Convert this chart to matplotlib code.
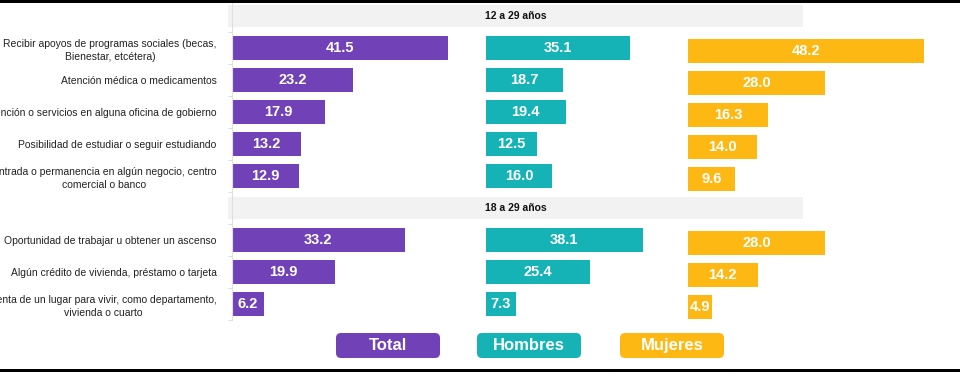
import matplotlib

matplotlib.use("Agg")
import matplotlib.pyplot as plt
import numpy as np
from matplotlib.patches import FancyBboxPatch, Rectangle

# data
groups = ["12 a 29 años", "18 a 29 años"]
group_sizes = [5, 3]
categories = [
    "Recibir apoyos de programas sociales (becas,\nBienestar, etcétera)",
    "Atención médica o medicamentos",
    "Atención o servicios en alguna oficina de gobierno",
    "Posibilidad de estudiar o seguir estudiando",
    "Entrada o permanencia en algún negocio, centro\ncomercial o banco",
    "Oportunidad de trabajar u obtener un ascenso",
    "Algún crédito de vivienda, préstamo o tarjeta",
    "Renta de un lugar para vivir, como departamento,\nvivienda o cuarto",
]
total = [41.5, 23.2, 17.9, 13.2, 12.9, 33.2, 19.9, 6.2]
hombres = [35.1, 18.7, 19.4, 12.5, 16.0, 38.1, 25.4, 7.3]
mujeres = [48.2, 28.0, 16.3, 14.0, 9.6, 28.0, 14.2, 4.9]
series_names = ["Total", "Hombres", "Mujeres"]

colors = ["#7041B7", "#15B3B5", "#FDB813"]
FONT = ["Liberation Sans Narrow", "Liberation Sans", "DejaVu Sans"]

W, H = 960, 372
fig = plt.figure(figsize=(W / 100, H / 100), dpi=100)

# slot positions: one slot per group header, then its rows
band_pos, row_pos = [], []
k = 0
for n in group_sizes:
    band_pos.append(k)
    row_pos.extend(range(k + 1, k + 1 + n))
    k += n + 1
n_slots = k
row_pos = np.array(row_pos)


def px_axes(left, width, dy=0):
    # axes placed in pixel units; y covers all slots
    bottom = H - 320 - dy
    return fig.add_axes([left / W, bottom / H, width / W, 320 / H])


# header bands spanning the three panels
axb = px_axes(228, 575)
axb.barh(band_pos, [1] * len(band_pos), height=0.7, left=0, color="#F2F2F2")
for p, g in zip(band_pos, groups):
    axb.text(0.5, p, g, ha="center", va="center", fontsize=7.5,
             fontweight="bold", family=FONT, color="#111111")
axb.set_xlim(0, 1)
axb.set_ylim(n_slots - 0.5, -0.5)
axb.axis("off")

xmax = 50
panels = [(232, 5.2, 0), (486, 4.11, 0), (688, 4.9, 3)]
values = [total, hombres, mujeres]
axes = []
for (left, scale, dy), vals, col in zip(panels, values, colors):
    ax = px_axes(left, xmax * scale, dy)
    ax.patch.set_visible(False)
    ax.barh(row_pos, vals, height=0.78, color=col)
    for y, v in zip(row_pos, vals):
        ax.text(v / 2, y, f"{v:.1f}", ha="center", va="center", color="white",
                fontsize=10.5, fontweight="bold", family=FONT)
    ax.set_xlim(0, xmax)
    ax.set_ylim(n_slots - 0.5, -0.5)
    ax.set_xticks([])
    for s in ["top", "right", "bottom", "left"]:
        ax.spines[s].set_visible(False)
    ax.set_yticks([])
    axes.append(ax)

ax0 = axes[0]
ax0.spines["left"].set_visible(True)
ax0.spines["left"].set_color("#E0E0E0")
ax0.spines["left"].set_linewidth(0.8)
ax0.set_yticks(row_pos)
ax0.set_yticklabels(categories, fontsize=7.5, family=FONT, color="#222222",
                    linespacing=1.35)
for lab in ax0.get_yticklabels():
    lab.set_multialignment("center")
ax0.tick_params(axis="y", which="major", length=0, pad=11)
ax0.set_yticks(np.arange(n_slots + 1) - 0.5, minor=True)
ax0.tick_params(axis="y", which="minor", length=3, color="#E0E0E0", width=0.8)

# legend boxes
for name, col, cx in zip(series_names, colors, [388, 529, 672]):
    box = FancyBboxPatch(((cx - 52) / 100, 0.14), 1.04, 0.25,
                         boxstyle="round,pad=0,rounding_size=0.05",
                         transform=fig.dpi_scale_trans, facecolor=col,
                         edgecolor="none")
    fig.add_artist(box)
    fig.text(cx / W, (0.14 + 0.125) * 100 / H, name, ha="center", va="center",
             color="white", fontsize=12, fontweight="bold", family=FONT)

# black frame lines top and bottom
fig.add_artist(Rectangle((0, 1 - 3 / H), 1, 3 / H, transform=fig.transFigure,
                         facecolor="black", edgecolor="none"))
fig.add_artist(Rectangle((0, 0), 1, 3 / H, transform=fig.transFigure,
                         facecolor="black", edgecolor="none"))

fig.savefig("out.png", dpi=100)
